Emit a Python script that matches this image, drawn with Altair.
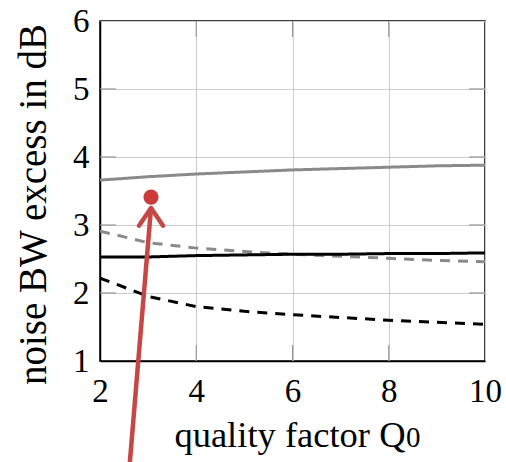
import altair as alt
import pandas as pd

q = [2, 3, 4, 5, 6, 7, 8, 9, 10]
gray_solid = [3.66, 3.71, 3.75, 3.78, 3.81, 3.83, 3.85, 3.87, 3.88]
gray_dashed = [2.91, 2.74, 2.66, 2.61, 2.57, 2.54, 2.51, 2.48, 2.46]
black_solid = [2.53, 2.53, 2.55, 2.56, 2.57, 2.57, 2.58, 2.58, 2.59]
black_dashed = [2.22, 1.95, 1.80, 1.73, 1.68, 1.64, 1.60, 1.57, 1.54]

x_ticks = [2, 4, 6, 8, 10]
y_ticks = [1, 2, 3, 4, 5, 6]
x_inner = [4, 6, 8]
y_inner = [2, 3, 4, 5]

x_title = "quality factor Q"
x_title_sub = "0"
y_title = "noise BW excess in dB"

# annotation (red marker with arrow)
dot_q = [3.06]
dot_v = [3.41]
arrow_q = [2.62, 3.06]
arrow_v = [-0.49, 3.25]
head_q = [[2.81, 3.06], [3.31, 3.06]]
head_v = [[2.99, 3.25], [2.99, 3.25]]

series = {
    "gray solid": gray_solid,
    "gray dashed": gray_dashed,
    "black solid": black_solid,
    "black dashed": black_dashed,
}
rows = []
for name, vals in series.items():
    for x, v in zip(q, vals):
        rows.append({"q": x, "v": v, "s": name})
df = pd.DataFrame(rows)

FONT = "Liberation Serif"
W, H = 385, 340
xs = alt.Scale(domain=[2, 10], nice=False, zero=False)
ys = alt.Scale(domain=[1, 6], nice=False, zero=False)

lines = alt.Chart(df).mark_line(strokeWidth=3, clip=True).encode(
    x=alt.X("q:Q", scale=xs,
            axis=alt.Axis(values=x_ticks, title=x_title, format="d",
                          titleX=305, titleY=85, titleAlign="right",
                          titleBaseline="alphabetic")),
    y=alt.Y("v:Q", scale=ys,
            axis=alt.Axis(values=y_ticks, title=y_title, format="d",
                          titleX=-55, titleY=183, titleAngle=270,
                          titleBaseline="alphabetic", titleAlign="center")),
    color=alt.Color("s:N", legend=None,
                    scale=alt.Scale(domain=list(series.keys()),
                                    range=["#8a8a8a", "#8a8a8a", "#000000", "#000000"])),
    strokeDash=alt.StrokeDash("s:N", legend=None,
                              scale=alt.Scale(domain=list(series.keys()),
                                              range=[[1, 0], [10, 8], [1, 0], [10, 8]])),
    detail="s:N",
)

sub = alt.Chart(pd.DataFrame({"t": [x_title_sub]})).mark_text(
    font=FONT, fontSize=29, align="left", baseline="alphabetic", color="black"
).encode(x=alt.value(306), y=alt.value(H + 86), text="t:N")

tick_col = "#999999"
xt = pd.DataFrame({"q": x_inner})
yt = pd.DataFrame({"v": y_inner})
top_ticks = alt.Chart(xt).mark_rule(color=tick_col, strokeWidth=1.2).encode(
    x=alt.X("q:Q", scale=xs), y=alt.value(0), y2=alt.value(16))
bot_ticks = alt.Chart(xt).mark_rule(color=tick_col, strokeWidth=1.2).encode(
    x=alt.X("q:Q", scale=xs), y=alt.value(H - 16), y2=alt.value(H))
left_ticks = alt.Chart(yt).mark_rule(color=tick_col, strokeWidth=1.2).encode(
    y=alt.Y("v:Q", scale=ys), x=alt.value(0), x2=alt.value(16))
right_ticks = alt.Chart(yt).mark_rule(color=tick_col, strokeWidth=1.2).encode(
    y=alt.Y("v:Q", scale=ys), x=alt.value(W - 16), x2=alt.value(W))

red = "#c64846"
arrow_df = pd.DataFrame({"q": arrow_q, "v": arrow_v})
arrow = alt.Chart(arrow_df).mark_line(color=red, strokeWidth=4.5, clip=False).encode(
    x=alt.X("q:Q", scale=xs), y=alt.Y("v:Q", scale=ys))

head_rows = []
for i, (hq, hv) in enumerate(zip(head_q, head_v)):
    for a, b in zip(hq, hv):
        head_rows.append({"q": a, "v": b, "k": i})
head = alt.Chart(pd.DataFrame(head_rows)).mark_line(
    color=red, strokeWidth=4.5, strokeCap="round", clip=False).encode(
    x=alt.X("q:Q", scale=xs), y=alt.Y("v:Q", scale=ys), detail="k:N")

dot = alt.Chart(pd.DataFrame({"q": dot_q, "v": dot_v})).mark_point(
    filled=True, color="#cc3a3a", size=230, opacity=1, shape="circle").encode(
    x=alt.X("q:Q", scale=xs), y=alt.Y("v:Q", scale=ys))

chart = alt.layer(top_ticks, bot_ticks, left_ticks, right_ticks,
                  lines, arrow, head, dot, sub).properties(
    width=W, height=H,
    autosize=alt.AutoSizeParams(type="none"),
    padding={"left": 100, "top": 21, "right": 21, "bottom": 101},
).configure_view(
    stroke="black", strokeWidth=1.5
).configure_axis(
    labelFont=FONT, titleFont=FONT, labelFontSize=33,
    labelColor="black", titleColor="black", titleFontWeight="normal",
    gridColor="#cccccc", gridWidth=1, domainColor="black", domainWidth=1.5,
    ticks=False, labelFlush=False,
).configure_axisY(
    labelPadding=11, titleFontSize=39
).configure_axisX(
    labelPadding=14, titleFontSize=36.5
)

chart.save("out.html", embed_options={"renderer": "svg", "actions": False})
